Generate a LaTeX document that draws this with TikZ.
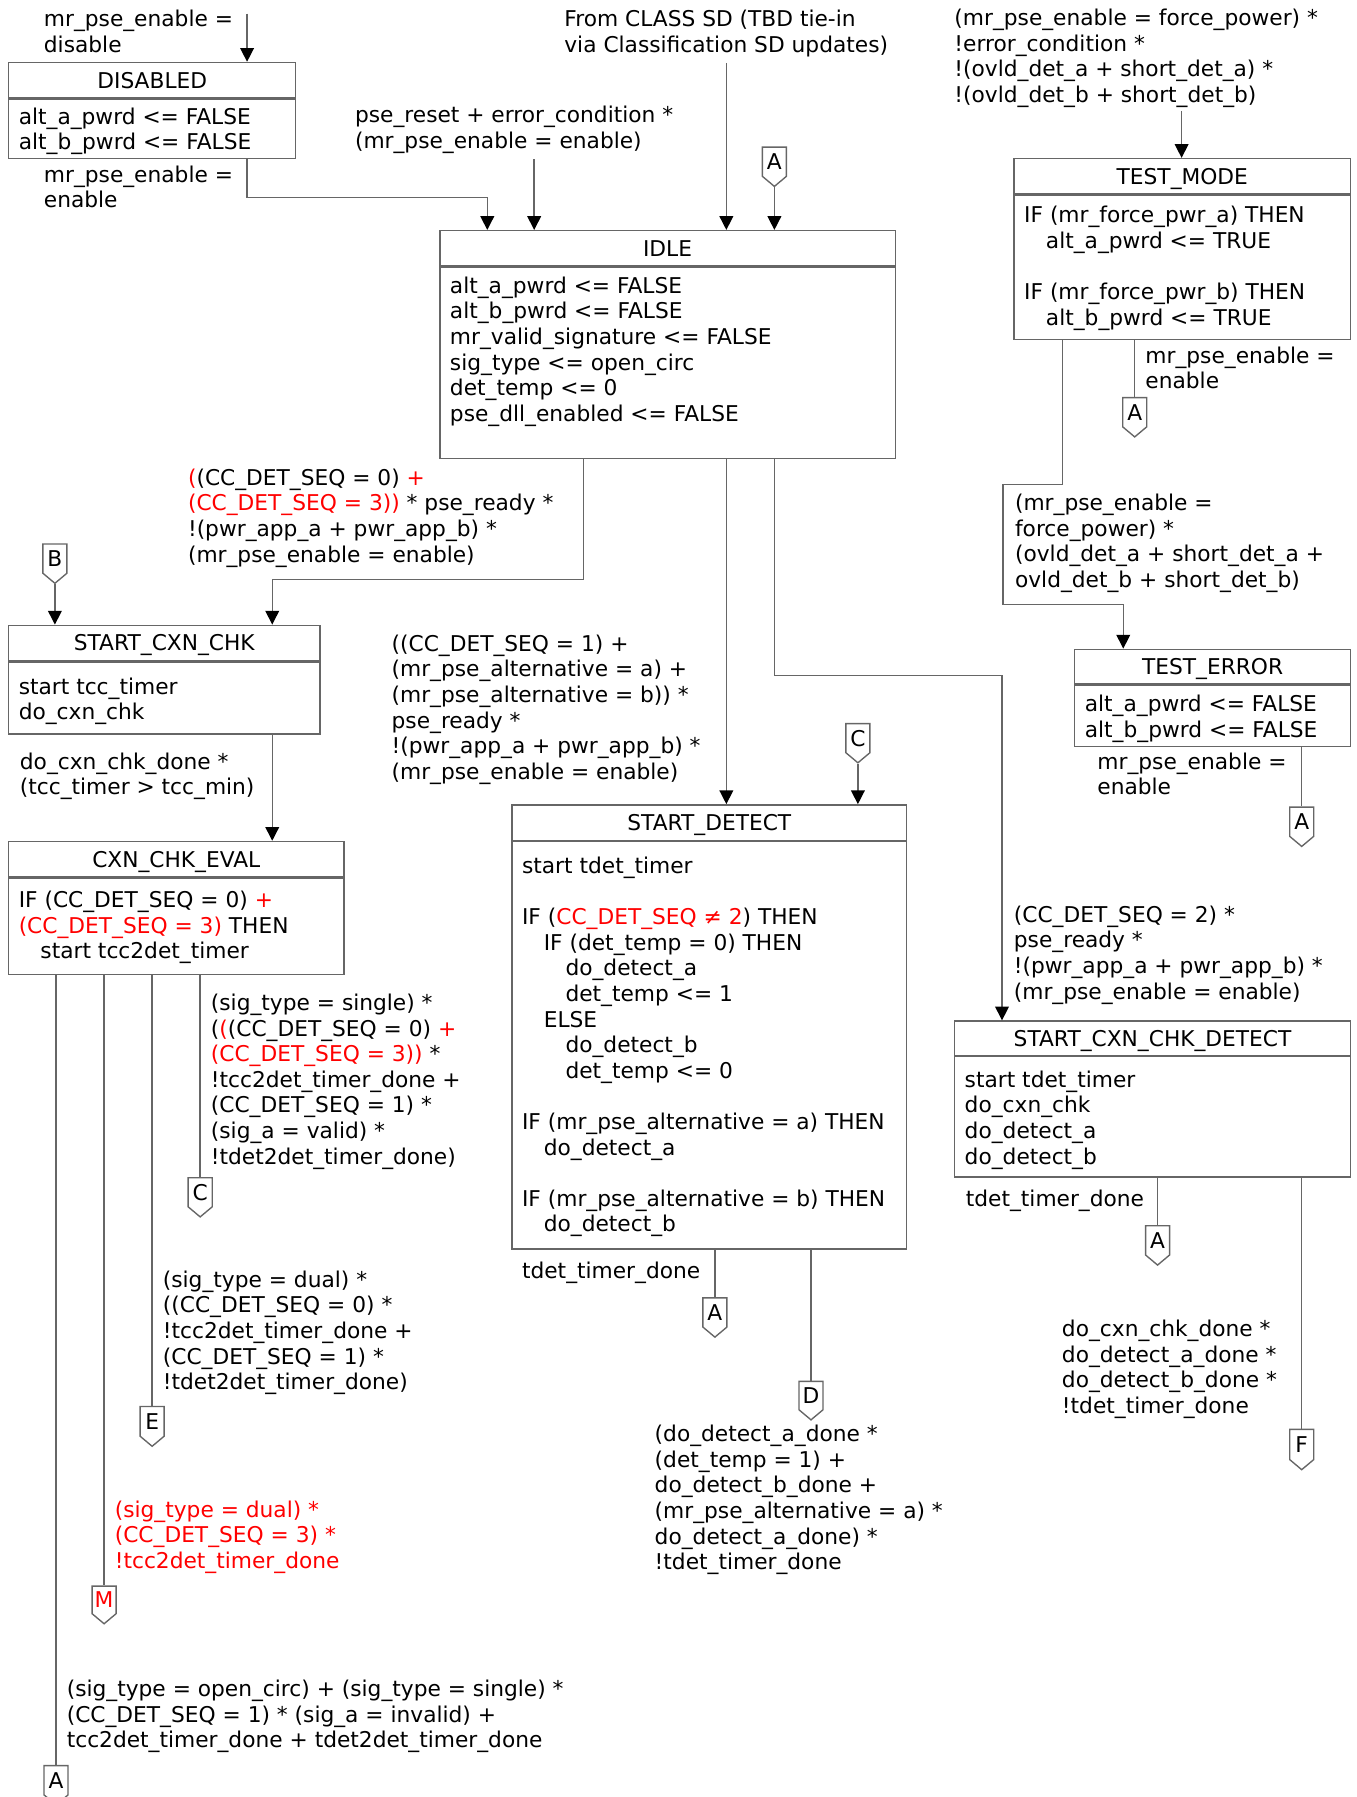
\documentclass[tikz,border=0pt]{standalone}
\usepackage{fontspec}
\setmainfont{DejaVu Sans}
\usetikzlibrary{arrows.meta,shapes.symbols}
\newcommand\indstep{\hspace*{1em}}

\begin{document}
\begin{tikzpicture}[x=0.5pt,y=-0.5pt,font=\fontsize{9.5}{11.2}\selectfont]
\tikzstyle{line}=[draw=black!60, line width=0.6pt]
\tikzstyle{trans}=[line, -{Triangle[width=6pt,length=6pt,color=black]}]
\tikzstyle{statehead}=[line, anchor=north west, minimum height=15.5pt, inner sep=0pt, text height=6.9pt, text depth=0pt]
\tikzstyle{statebody}=[line, anchor=north west, inner sep=0pt]
\tikzstyle{bodytext}=[anchor=north west, align=left, inner xsep=4.5pt, inner ysep=4.2pt]
\tikzstyle{cond}=[anchor=north west, align=left, inner sep=0pt]
\tikzstyle{offpage}=[line, shape=signal, signal from=nowhere, signal to=south, signal pointer angle=100, anchor=north, minimum width=10.5pt, minimum height=15.5pt, inner sep=0pt, text height=6.9pt, text depth=0pt]

\useasboundingbox (0,0) rectangle (1186,1571);

% States
\node[statehead, minimum width=125.5pt] (disabled) at (7,54) {DISABLED};
\node[statebody, minimum width=125.5pt, minimum height=26pt] (disabled-b) at (disabled.south west) {};
\node[bodytext, yshift=0.5pt] (disabled-t) at (disabled-b.north west) {alt\_a\_pwrd <= FALSE\\alt\_b\_pwrd <= FALSE};

\node[statehead, minimum width=199pt] (idle) at (384,201) {IDLE};
\node[statebody, minimum width=199pt, minimum height=83.5pt] (idle-b) at (idle.south west) {};
\node[bodytext] (idle-t) at (idle-b.north west) {alt\_a\_pwrd <= FALSE\\alt\_b\_pwrd <= FALSE\\mr\_valid\_signature <= FALSE\\sig\_type <= open\_circ\\det\_temp <= 0\\pse\_dll\_enabled <= FALSE};

\node[statehead, minimum width=147pt] (testmode) at (886,138) {TEST\_MODE};
\node[statebody, minimum width=147pt, minimum height=63pt] (testmode-b) at (testmode.south west) {};
\node[bodytext, yshift=-0.75pt] (testmode-t) at (testmode-b.north west) {IF (mr\_force\_pwr\_a) THEN\\\indstep alt\_a\_pwrd <= TRUE\\[11.2pt]IF (mr\_force\_pwr\_b) THEN\\\indstep alt\_b\_pwrd <= TRUE};

\node[statehead, minimum width=120.5pt, minimum height=15pt] (testerror) at (939,567) {TEST\_ERROR};
\node[statebody, minimum width=120.5pt, minimum height=27pt] (testerror-b) at (testerror.south west) {};
\node[bodytext, yshift=-0.5pt] (testerror-t) at (testerror-b.north west) {alt\_a\_pwrd <= FALSE\\alt\_b\_pwrd <= FALSE};

\node[statehead, minimum width=136pt] (scc) at (7,546) {START\_CXN\_CHK};
\node[statebody, minimum width=136pt, minimum height=31.5pt] (scc-b) at (scc.south west) {};
\node[bodytext, yshift=-2.75pt] (scc-t) at (scc-b.north west) {start tcc\_timer\\do\_cxn\_chk};

\node[statehead, minimum width=146.5pt] (cce) at (7,735) {CXN\_CHK\_EVAL};
\node[statebody, minimum width=146.5pt, minimum height=42pt] (cce-b) at (cce.south west) {};
\node[bodytext, yshift=-1.5pt] (cce-t) at (cce-b.north west) {IF (CC\_DET\_SEQ = 0) \textcolor{red}{+}\\\textcolor{red}{(CC\_DET\_SEQ = 3)} THEN\\\indstep start tcc2det\_timer};

\node[statehead, minimum width=172.5pt] (sd) at (447,703) {START\_DETECT};
\node[statebody, minimum width=172.5pt, minimum height=178pt] (sd-b) at (sd.south west) {};
\node[bodytext, yshift=-2.5pt] (sd-t) at (sd-b.north west) {start tdet\_timer\\[11.2pt]IF (\textcolor{red}{CC\_DET\_SEQ ≠ 2}) THEN\\\indstep IF (det\_temp = 0) THEN\\\indstep\indstep do\_detect\_a\\\indstep\indstep det\_temp <= 1\\\indstep ELSE\\\indstep\indstep do\_detect\_b\\\indstep\indstep det\_temp <= 0\\[11.2pt]IF (mr\_pse\_alternative = a) THEN\\\indstep do\_detect\_a\\[11.2pt]IF (mr\_pse\_alternative = b) THEN\\\indstep do\_detect\_b};

\node[statehead, minimum width=173pt, minimum height=15pt] (sccd) at (834,892) {START\_CXN\_CHK\_DETECT};
\node[statebody, minimum width=173pt, minimum height=52.5pt] (sccd-b) at (sccd.south west) {};
\node[bodytext, yshift=-2pt] (sccd-t) at (sccd-b.north west) {start tdet\_timer\\do\_cxn\_chk\\do\_detect\_a\\do\_detect\_b};

% Off-page connectors
\node[offpage] (off-idle-a) at (677,128) {A};
\node[offpage] (off-tm-a) at (992,347) {A};
\node[offpage] (off-te-a) at (1138,705) {A};
\node[offpage] (off-b) at (48,475) {B};
\node[offpage] (off-sd-c) at (750,632) {C};
\node[offpage] (off-cce-c) at (175,1029) {C};
\node[offpage] (off-cce-e) at (133,1229) {E};
\node[offpage, text=red] (off-cce-m) at (91,1386) {M};
\node[offpage] (off-cce-a) at (49,1543) {A};
\node[offpage] (off-sd-a) at (625,1134) {A};
\node[offpage] (off-sd-d) at (709,1207) {D};
\node[offpage] (off-sccd-a) at (1012,1071) {A};
\node[offpage] (off-sccd-f) at (1138,1249) {F};

% Free ends of the incoming transitions
\coordinate (dis-in) at (216,12);
\coordinate (reset-in) at (467,139);
\coordinate (class-in) at (635,55);
\coordinate (force-in) at (1033,97);

% Transitions
\draw[trans] (dis-in) -- (dis-in |- disabled.north);
\draw[trans] (216,0 |- disabled-b.south) -- ++(0,33) -| (426,0 |- idle.north);
\draw[trans] (reset-in) -- (reset-in |- idle.north);
\draw[trans] (class-in) -- (class-in |- idle.north);
\draw[trans] (off-idle-a.south) -- (off-idle-a.south |- idle.north);
\draw[trans] (force-in) -- (force-in |- testmode.north);
\draw[line] (off-tm-a.north |- testmode-b.south) -- (off-tm-a.north);
\draw[trans] (929,0 |- testmode-b.south) -- ++(0,126) -| ++(-52,105) -| (982,0 |- testerror.north);
\draw[line] (off-te-a.north |- testerror-b.south) -- (off-te-a.north);
\draw[trans] (510,0 |- idle-b.south) -- ++(0,105) -| (238,0 |- scc.north);
\draw[trans] (off-b.south) -- (off-b.south |- scc.north);
\draw[trans] (635,0 |- idle-b.south) -- (635,0 |- sd.north);
\draw[trans] (off-sd-c.south) -- (off-sd-c.south |- sd.north);
\draw[trans] (677,0 |- idle-b.south) -- ++(0,189) -| (876,0 |- sccd.north);
\draw[trans] (238,0 |- scc-b.south) -- (238,0 |- cce.north);
\foreach \dest in {off-cce-c,off-cce-e,off-cce-m,off-cce-a}
  \draw[line] (\dest.north |- cce-b.south) -- (\dest.north);
\foreach \dest in {off-sd-a,off-sd-d}
  \draw[line] (\dest.north |- sd-b.south) -- (\dest.north);
\foreach \dest in {off-sccd-a,off-sccd-f}
  \draw[line] (\dest.north |- sccd-b.south) -- (\dest.north);

% Conditions
\node[cond] (c-dis) at (38,8.5) {mr\_pse\_enable =\\disable};
\node[cond] (c-en) at (38,144.5) {mr\_pse\_enable =\\enable};
\node[cond] (c-reset) at (310,92.5) {pse\_reset + error\_condition *\\(mr\_pse\_enable = enable)};
\node[cond] (c-class) at (493,8.5) {From CLASS SD (TBD tie-in\\via Classification SD updates)};
\node[cond] (c-force) at (834,7.5) {(mr\_pse\_enable = force\_power) *\\!error\_condition *\\!(ovld\_det\_a + short\_det\_a) *\\!(ovld\_det\_b + short\_det\_b)};
\node[cond] (c-tm-a) at (1001,302.5) {mr\_pse\_enable =\\enable};
\node[cond] (c-tm-err) at (887,431.5) {(mr\_pse\_enable =\\force\_power) *\\(ovld\_det\_a + short\_det\_a +\\ovld\_det\_b + short\_det\_b)};
\node[cond] (c-te-a) at (959,657.5) {mr\_pse\_enable =\\enable};
\node[cond] (c-idle-scc) at (164,409.5) {\textcolor{red}{(}(CC\_DET\_SEQ = 0) \textcolor{red}{+}\\\textcolor{red}{(CC\_DET\_SEQ = 3))} * pse\_ready *\\!(pwr\_app\_a + pwr\_app\_b) *\\(mr\_pse\_enable = enable)};
\node[cond] (c-idle-sd) at (342,554.5) {((CC\_DET\_SEQ = 1) +\\(mr\_pse\_alternative = a) +\\(mr\_pse\_alternative = b)) *\\pse\_ready *\\!(pwr\_app\_a + pwr\_app\_b) *\\(mr\_pse\_enable = enable)};
\node[cond] (c-idle-sccd) at (886,791.5) {(CC\_DET\_SEQ = 2) *\\pse\_ready *\\!(pwr\_app\_a + pwr\_app\_b) *\\(mr\_pse\_enable = enable)};
\node[cond] (c-scc-cce) at (17,657.5) {do\_cxn\_chk\_done *\\(tcc\_timer > tcc\_min)};
\node[cond] (c-cce-c) at (184,868.5) {(sig\_type = single) *\\(\textcolor{red}{(}(CC\_DET\_SEQ = 0) \textcolor{red}{+}\\\textcolor{red}{(CC\_DET\_SEQ = 3))} *\\!tcc2det\_timer\_done +\\(CC\_DET\_SEQ = 1) *\\(sig\_a = valid) *\\!tdet2det\_timer\_done)};
\node[cond] (c-cce-e) at (142,1110.5) {(sig\_type = dual) *\\((CC\_DET\_SEQ = 0) *\\!tcc2det\_timer\_done +\\(CC\_DET\_SEQ = 1) *\\!tdet2det\_timer\_done)};
\node[cond, text=red] (c-cce-m) at (100,1311.5) {(sig\_type = dual) *\\(CC\_DET\_SEQ = 3) *\\!tcc2det\_timer\_done};
\node[cond] (c-cce-a) at (58,1468.5) {(sig\_type = open\_circ) + (sig\_type = single) *\\(CC\_DET\_SEQ = 1) * (sig\_a = invalid) +\\tcc2det\_timer\_done + tdet2det\_timer\_done};
\node[cond] (c-sd-a) at (456,1102.5) {tdet\_timer\_done};
\node[cond] (c-sd-d) at (572,1245.5) {(do\_detect\_a\_done *\\(det\_temp = 1) +\\do\_detect\_b\_done +\\(mr\_pse\_alternative = a) *\\do\_detect\_a\_done) *\\!tdet\_timer\_done};
\node[cond] (c-sccd-a) at (844,1039.5) {tdet\_timer\_done};
\node[cond] (c-sccd-f) at (928,1153.5) {do\_cxn\_chk\_done *\\do\_detect\_a\_done *\\do\_detect\_b\_done *\\!tdet\_timer\_done};

\end{tikzpicture}
\end{document}
